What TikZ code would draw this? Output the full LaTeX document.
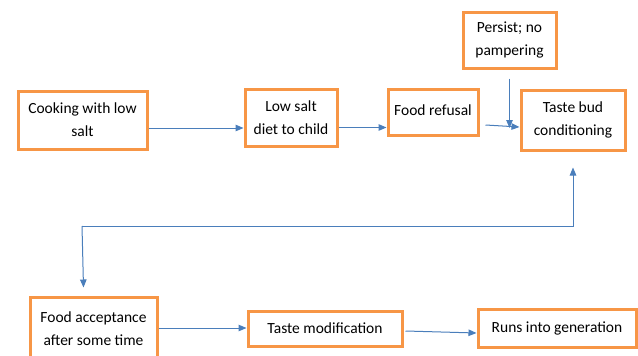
\documentclass[tikz,border=0pt]{standalone}
\usepackage{fontspec}
\setmainfont{Carlito}
\usetikzlibrary{arrows.meta}
\definecolor{boxorange}{HTML}{F79646}
\definecolor{arrowblue}{HTML}{4A7EBB}
\tikzset{
  stepbox/.style={draw=boxorange, line width=3pt, align=center, inner sep=0pt,
    font=\fontsize{15.5}{23}\selectfont},
  flow/.style={draw=arrowblue, line width=1pt, -{Triangle[length=8pt,width=6.5pt]}}
}
\begin{document}
\begin{tikzpicture}[x=1pt,y=-1pt]
    \useasboundingbox (0,0) rectangle (638,356);

    % boxes
    \node[stepbox, minimum width=129pt, minimum height=58pt] (cook) at (82.5,120) {Cooking with low\\salt};
    \node[stepbox, minimum width=92pt, minimum height=57pt] (diet) at (291,117.5) {Low salt\\diet to child};
    \node[stepbox, minimum width=90pt, minimum height=46pt] (refuse) at (433,112) {\raisebox{4pt}{Food refusal}};
    \node[stepbox, minimum width=93pt, minimum height=56pt] (persist) at (509.5,40) {Persist; no\\pampering};
    \node[stepbox, minimum width=104pt, minimum height=60pt] (bud) at (573,120) {Taste bud\\conditioning};
    \node[stepbox, minimum width=127pt, minimum height=64pt] (accept) at (93.5,329) {Food acceptance\\after some time};
    \node[stepbox, minimum width=154pt, minimum height=35pt] (modify) at (325,328.5) {Taste modification};
    \node[stepbox, minimum width=158pt, minimum height=38pt] (gen) at (557,328) {Runs into generation};

    % free ends
    \coordinate (join) at (509.5,128);
    \coordinate (loopL) at (82,226);
    \coordinate (loopR) at (573,226);

    % arrows
    \draw[flow] (cook.east |- 0,128) -- (diet.west |- 0,128);
    \draw[flow] (diet.east |- 0,127.5) -- (refuse.west |- 0,127.5);
    \draw[flow] ([xshift=6pt]refuse.east |- 0,125) -- (bud.west |- 0,127);
    \draw[flow] ([yshift=-9pt]persist.south) -- (join);
    \draw[flow] (loopL) -- (loopR) -- ([yshift=-16pt]bud.south);
    \draw[flow] (loopL) -- ([xshift=-10pt,yshift=8pt]accept.north);
    \draw[flow] (accept.east |- 0,328) -- (modify.west |- 0,328);
    \draw[flow] ([xshift=2pt]modify.east |- 0,331) -- (gen.west |- 0,333);
\end{tikzpicture}
\end{document}
